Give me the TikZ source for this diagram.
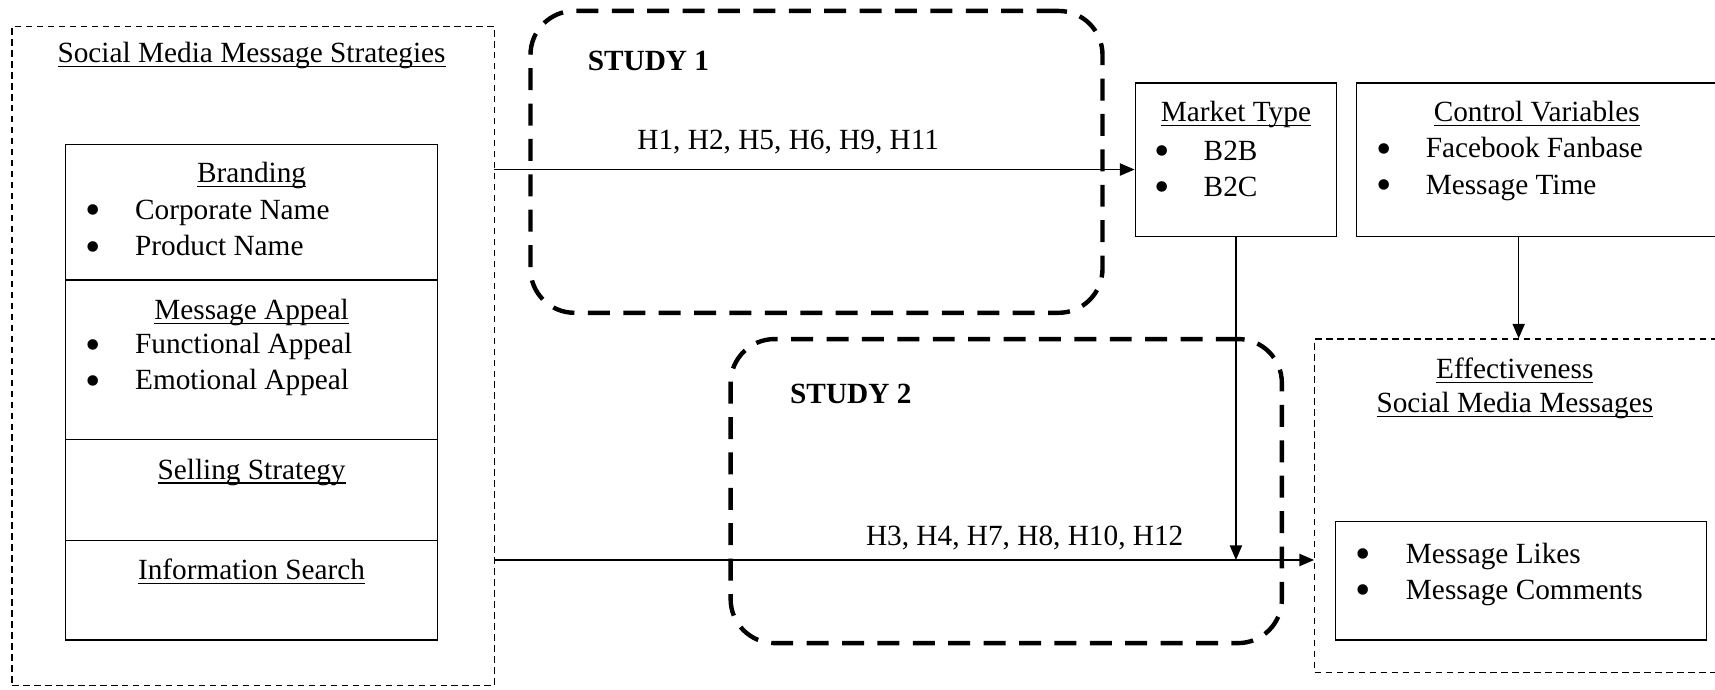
\documentclass[tikz,border=0pt]{standalone}
\usepackage{fontspec}
\setmainfont{Liberation Serif}
\usetikzlibrary{arrows.meta, positioning, fit}

\newcommand{\bul}[1][20.2pt]{\makebox[#1][l]{\smash{\raisebox{-2.2pt}{\fontsize{18}{18}\selectfont\textbullet}}}}
\newcommand{\ulined}[1]{\setbox0\hbox{#1}\rlap{\rule[-1.8pt]{\wd0}{0.5pt}}\box0}

\begin{document}
\begin{tikzpicture}[
  x=0.448pt, y=-0.448pt,
  >={Triangle[length=6pt, width=5pt]},
  font=\fontsize{12}{14.8}\selectfont,
  box/.style={rectangle, draw, line width=0.6pt, inner sep=0pt},
  dashbox/.style={rectangle, draw, line width=0.5pt,
    dash pattern=on 2.7pt off 1.8pt, inner sep=0pt},
  studybox/.style={rectangle, draw, line width=1.8pt,
    dash pattern=on 9pt off 5.5pt, rounded corners=18pt, inner sep=0pt},
  title/.style={inner sep=0pt, text height=8.5pt, text depth=3pt},
  list/.style={anchor=west, align=left, inner sep=0pt},
  arrow/.style={->, line width=0.6pt},
]
\useasboundingbox (0,0) rectangle (1568,630);

% ── Social media message strategies (left)
\node[dashbox, fit={(11,24)(452,627)}] (strategies) {};
\node[title] (stratTitle) at (230,51) {\ulined{Social Media Message Strategies}};

\node[box, fit={(60,132)(400,256)}] (branding) {};
\node[box, fit={(60,256)(400,402)}] (appeal) {};
\node[box, fit={(60,402)(400,494)}] (selling) {};
\node[box, fit={(60,494)(400,585)}] (search) {};

\node[title] (brandTitle) at (230,161) {\ulined{Branding}};
\node[list] (brandList) at (78,208.5) {\bul Corporate Name\\\bul Product Name};

\node[title] (appealTitle) at (230,286) {\ulined{Message Appeal}};
\node[list] (appealList) at (78,333.5) {\bul Functional Appeal\\\bul Emotional Appeal};

\node[title] (sellTitle) at (230,432) {\ulined{Selling Strategy}};
\node[title] (searchTitle) at (230,524) {\ulined{Information Search}};

% ── Study boxes
\node[studybox, fit={(485,10)(1008,286)}] (study1) {};
\node[title, anchor=west] (study1Label) at (537,58) {\bfseries STUDY 1};

\node[studybox, fit={(668,310)(1172,588)}] (study2) {};
\node[title, anchor=west] (study2Label) at (722,363) {\bfseries STUDY 2};

% ── Market type + control variables
\node[box, fit={(1038,76)(1222,216)}] (market) {};
\node[title] (marketTitle) at (1130,105) {\ulined{Market Type}};
\node[list] (marketList) at (1055,154.5) {\bul B2B\\\bul B2C};

\node[box, fit={(1240,76)(1575,216)}] (control) {};
\node[title] (controlTitle) at (1405,105) {\ulined{Control Variables}};
\node[list] (controlList) at (1258,154.5) {\bul Facebook Fanbase\\\bul Message Time};

% ── Effectiveness (right)
\node[dashbox, fit={(1202,310)(1575,615)}] (effect) {};
\node[title] (effectTitle) at (1385,340) {\ulined{Effectiveness}};
\node[title] (effectSub) at (1385,371) {\ulined{Social Media Messages}};
\node[box, fit={(1221,477)(1560,585)}] (metrics) {};
\node[list] (metricsList) at (1239,525) {\bul[20.6pt]Message Likes\\\bul[20.6pt]Message Comments};

% ── Arrows
\coordinate (h1) at (452,155);
\coordinate (h2) at (452,512);
\draw[arrow] (h1) -- node[pos=0.459, above=6pt, inner sep=0pt]{H1, H2, H5, H6, H9, H11} (h1 -| market.west);
\draw[arrow] (h2) -- node[pos=0.647, above=3.6pt, inner sep=0pt]{H3, H4, H7, H8, H10, H12} (h2 -| effect.west);
\draw[arrow] (market.south) -- (market.south |- h2);
\draw[arrow] (effect.north |- control.south) -- (effect.north);

\end{tikzpicture}
\end{document}
